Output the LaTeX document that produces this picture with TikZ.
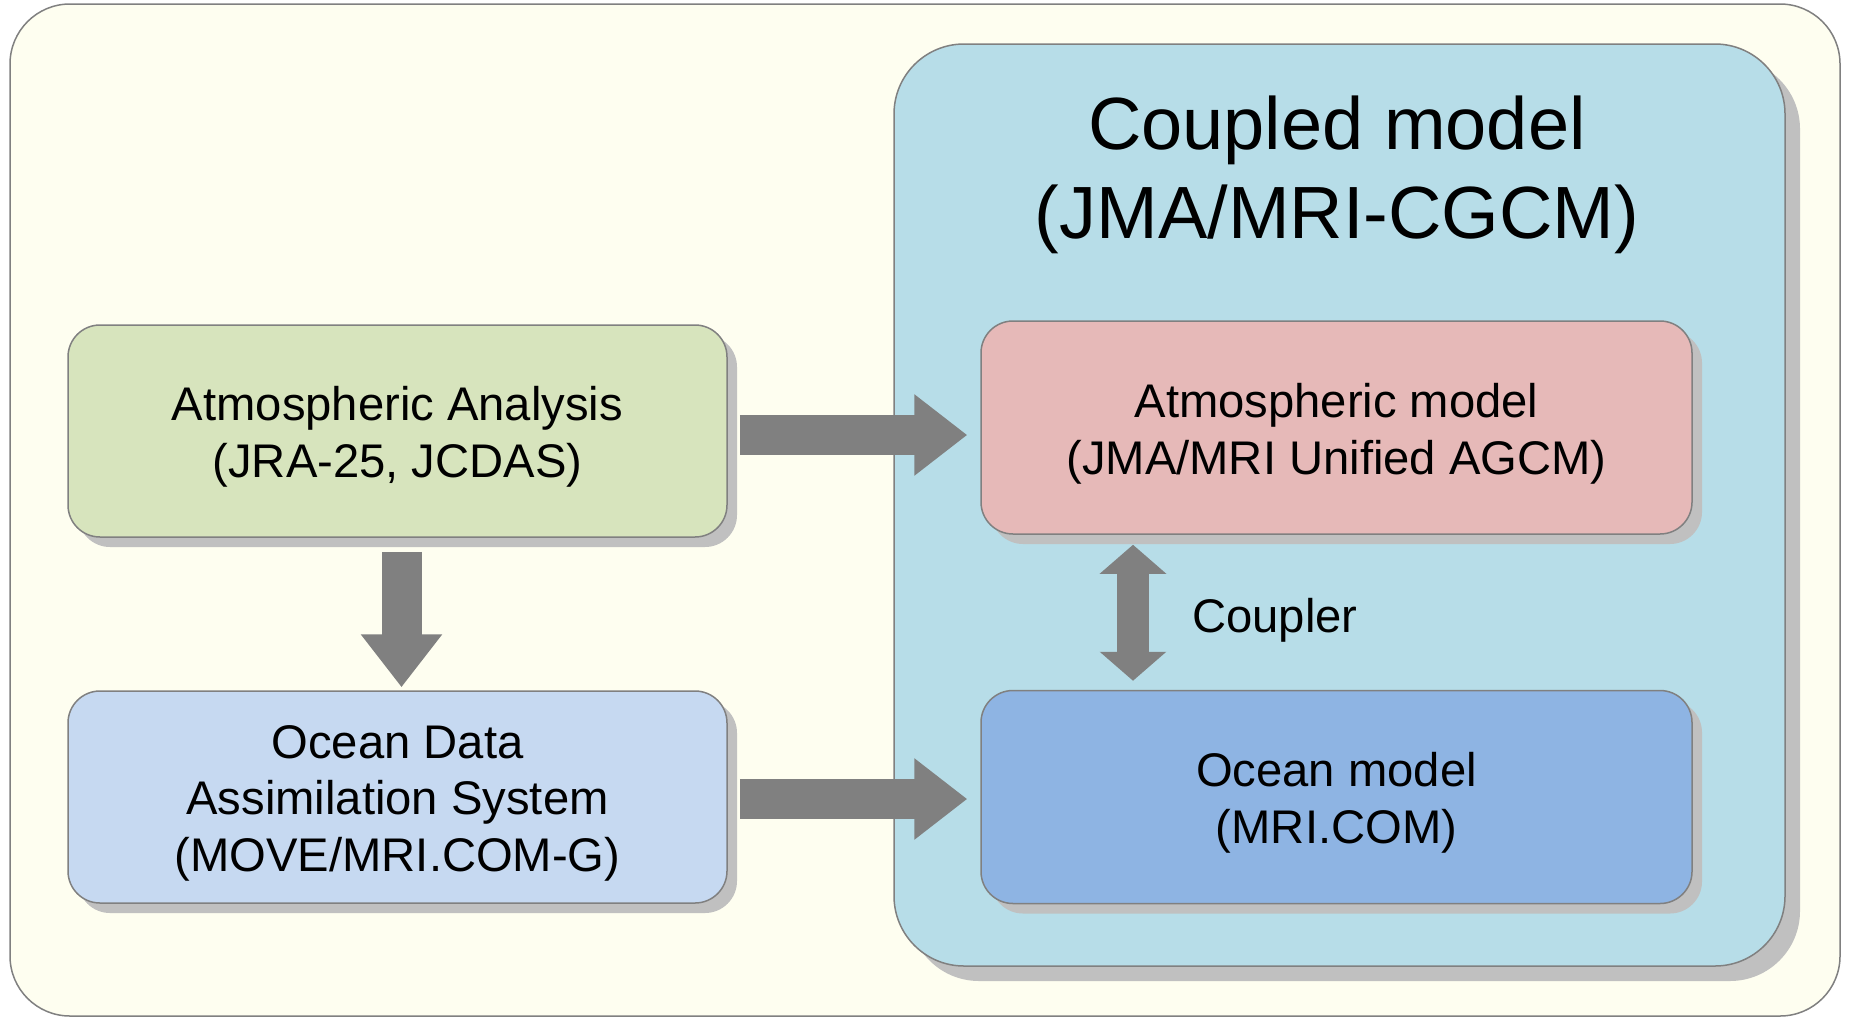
\documentclass[tikz,border=0pt]{standalone}
\usepackage{fontspec}
\setmainfont{Liberation Sans}
\usetikzlibrary{arrows.meta,shadows,calc}

\definecolor{bgcream}{HTML}{FEFEF0}
\definecolor{cplblue}{HTML}{B7DDE8}
\definecolor{anagreen}{HTML}{D7E4BD}
\definecolor{odablue}{HTML}{C6D9F1}
\definecolor{atmpink}{HTML}{E6B9B8}
\definecolor{ocnblue}{HTML}{8EB4E3}
\definecolor{edgegray}{HTML}{808080}
\definecolor{shdgray}{HTML}{C0C0C0}

\begin{document}
\begin{tikzpicture}[x=0.5pt,y=-0.5pt,
    txt/.style={font=\fontsize{23.6}{28.3}\selectfont, align=center},
    box/.style={draw=edgegray, line width=0.75pt, rounded corners=16pt,
      minimum width=329.5pt, minimum height=106pt,
      drop shadow={shadow xshift=5pt, shadow yshift=-5pt, fill=shdgray, opacity=1}},
    bigarr/.style={draw=edgegray, line width=20pt,
      -{Triangle[width=39pt,length=26.5pt]}},
    cplarr/.style={draw=edgegray, line width=16pt,
      {Triangle[width=32.5pt,length=14.5pt]}-{Triangle[width=32.5pt,length=14.5pt]}}]
      \useasboundingbox (0,0) rectangle (1851,1017);
      \draw[fill=bgcream, draw=edgegray, line width=0.75pt, rounded corners=30pt]
        (10,4) rectangle (1840,1016);

      \node[draw=edgegray, fill=cplblue, line width=0.75pt, rounded corners=35pt,
        minimum width=445.5pt, minimum height=461pt,
        drop shadow={shadow xshift=7.5pt, shadow yshift=-7.5pt, fill=shdgray, opacity=1}]
        (cp) at (1339.5, 505) {};
      \node[font=\fontsize{37}{44.5}\selectfont, align=center] (title) at (1337, 175)
        {Coupled model\\(JMA/MRI-CGCM)};

      \node[box, fill=anagreen] (ana) at (397.5, 431) {};
      \node[box, fill=odablue] (oda) at (397.5, 797) {};
      \node[box, fill=atmpink, minimum width=355.5pt, minimum height=106.5pt] (atm) at (1336.5, 427.5) {};
      \node[box, fill=ocnblue, minimum width=355.5pt, minimum height=106.5pt] (ocn) at (1336.5, 797) {};

      \node[txt] (ana-t) at ([yshift=-3pt]ana) {Atmospheric Analysis\\(JRA-25, JCDAS)};
      \node[txt] (oda-t) at ([yshift=-3pt]oda) {Ocean Data\\Assimilation System\\(MOVE/MRI.COM-G)};
      \node[txt] (atm-t) at ([yshift=-3pt]atm) {Atmospheric model\\(JMA/MRI Unified AGCM)};
      \node[txt] (ocn-t) at ([yshift=-3pt]ocn) {Ocean model\\(MRI.COM)};

      \coordinate (cx) at (1133, 0);
      \node[txt] (cpl) at (1275, 620) {Coupler};

      \draw[bigarr, shorten <=6pt, shorten >=6.5pt] ([yshift=-2pt]ana.east) -- ([yshift=-2pt]ana.east -| atm.west);
      \draw[bigarr, shorten <=6pt, shorten >=6.5pt] ([yshift=-1pt]oda.east) -- ([yshift=-1pt]oda.east -| ocn.west);
      \draw[bigarr, shorten <=7pt, shorten >=1.5pt] ([xshift=2pt]ana.south) -- ([xshift=2pt]oda.north);
      \draw[cplarr, shorten <=5pt, shorten >=4.5pt] (atm.south -| cx) -- (ocn.north -| cx);
      %\draw[cplarr] (atm.south) -- (ocn.north);
    \end{tikzpicture}
\end{document}
